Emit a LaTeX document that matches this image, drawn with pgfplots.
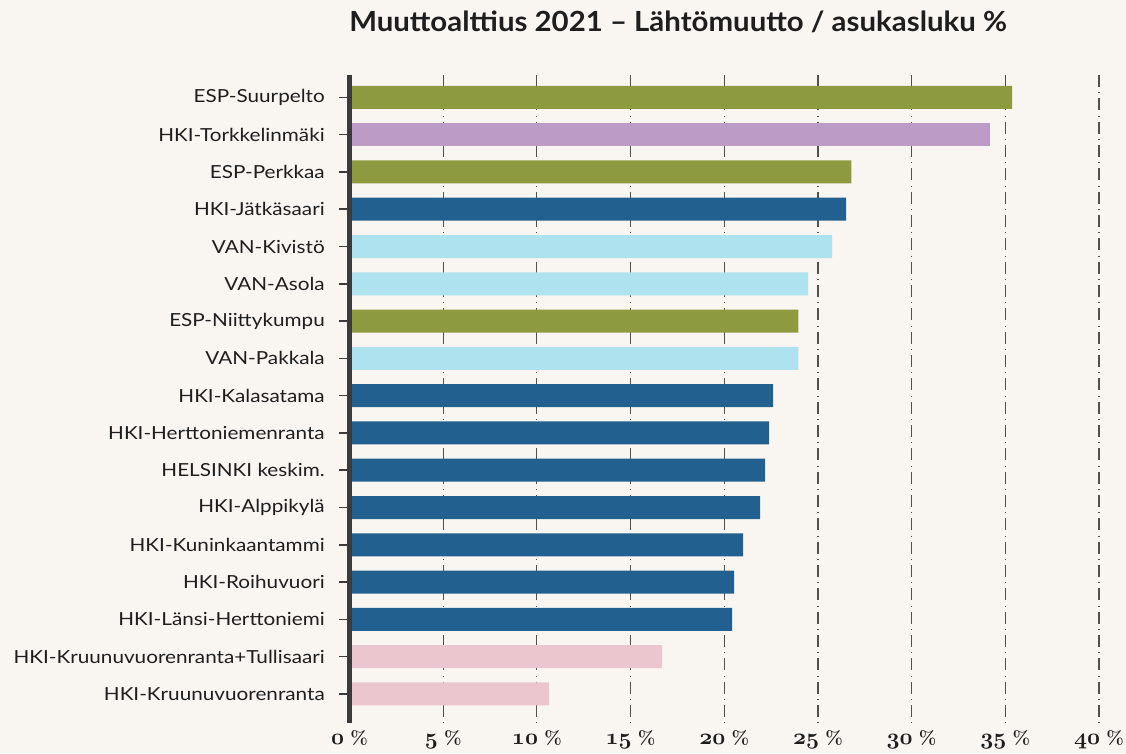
\documentclass[border=0pt]{standalone}
\usepackage{fontspec}
\usepackage{pgfplots}
\pgfplotsset{compat=1.18}
\newfontfamily\labelfont{Lato}[FakeStretch=1.15]
\newfontfamily\titlefont{Lato}[FakeStretch=1.06]
\definecolor{bgcol}{HTML}{F9F6F1}
\definecolor{olive}{HTML}{8E9A3F}
\definecolor{lilac}{HTML}{BC9BC6}
\definecolor{darkblue}{HTML}{22618F}
\definecolor{lightblue}{HTML}{AEE2EE}
\definecolor{pinkc}{HTML}{ECC6CF}
\definecolor{axiscol}{HTML}{3A3A3A}
\definecolor{gridcol}{HTML}{505050}
\definecolor{textcol}{HTML}{1E1E1E}
\font\osffont=cmmib10 at 17pt
\newcommand\osf[1]{{\osffont #1}}
\newcommand\pct{{\fontsize{14}{16}\normalfont\bfseries\%}}
\begin{document}
\begin{tikzpicture}
\path[use as bounding box, fill=bgcol] (0,0) rectangle (844.5pt,564.75pt);
\node[anchor=base west, text=textcol, font=\titlefont\bfseries\fontsize{20.8}{24}\selectfont, inner sep=0pt] at (261.75pt,541pt) {Muuttoalttius 2021 – Lähtömuutto / asukasluku \%};
\begin{axis}[
  at={(262.125pt,22.5pt)}, anchor=south west,
  scale only axis, width=562.1pt, height=486pt,
  xmin=0, xmax=40, ymin=-0.60, ymax=16.78, y dir=reverse,
  clip=false,
  xbar, bar width=17.25pt, bar shift=0pt,
  axis line style={draw=none},
  xmajorgrids,
  major grid style={gridcol, line width=0.9pt, dash pattern=on 9pt off 4pt on 0.75pt off 3.75pt},
  xtick={0,5,...,40},
  xticklabels={\osf{0}\,\,\pct, \osf{5}\,\,\pct, \osf{10}\,\,\pct, \osf{15}\,\,\pct, \osf{20}\,\,\pct, \osf{25}\,\,\pct, \osf{30}\,\,\pct, \osf{35}\,\,\pct, \osf{40}\,\,\pct},
  xtick style={draw=none},
  xticklabel style={anchor=base, yshift=-8pt, inner sep=0pt, text=textcol, font=\fontsize{14}{16}\selectfont},
  ytick={0,...,16},
  yticklabels={ESP-Suurpelto, HKI-Torkkelinmäki, ESP-Perkkaa, HKI-Jätkäsaari, VAN-Kivistö, VAN-Asola, ESP-Niittykumpu, VAN-Pakkala, HKI-Kalasatama, HKI-Herttoniemenranta, HELSINKI keskim., HKI-Alppikylä, HKI-Kuninkaantammi, HKI-Roihuvuori, HKI-Länsi-Herttoniemi, HKI-Kruunuvuorenranta+Tullisaari, HKI-Kruunuvuorenranta},
  tick align=outside, major tick length=8pt,
  ytick pos=left,
  ytick style={axiscol, line width=1.1pt},
  yticklabel style={anchor=east, inner sep=0pt, xshift=-10.4pt, text=textcol, font=\labelfont\fontsize{13.5}{15}\selectfont},
]
\addplot[fill=olive, draw=none] coordinates {(35.37,0) (26.78,2) (23.95,6)};
\addplot[fill=lilac, draw=none] coordinates {(34.19,1)};
\addplot[fill=darkblue, draw=none] coordinates {(26.51,3) (22.61,8) (22.40,9) (22.18,10) (21.92,11) (21.01,12) (20.53,13) (20.42,14)};
\addplot[fill=lightblue, draw=none] coordinates {(25.76,4) (24.48,5) (23.95,7)};
\addplot[fill=pinkc, draw=none] coordinates {(16.68,15) (10.65,16)};
\draw[axiscol, line width=3.75pt] (axis cs:0,-0.60) -- (axis cs:0,16.78);
\end{axis}
\end{tikzpicture}
\end{document}
